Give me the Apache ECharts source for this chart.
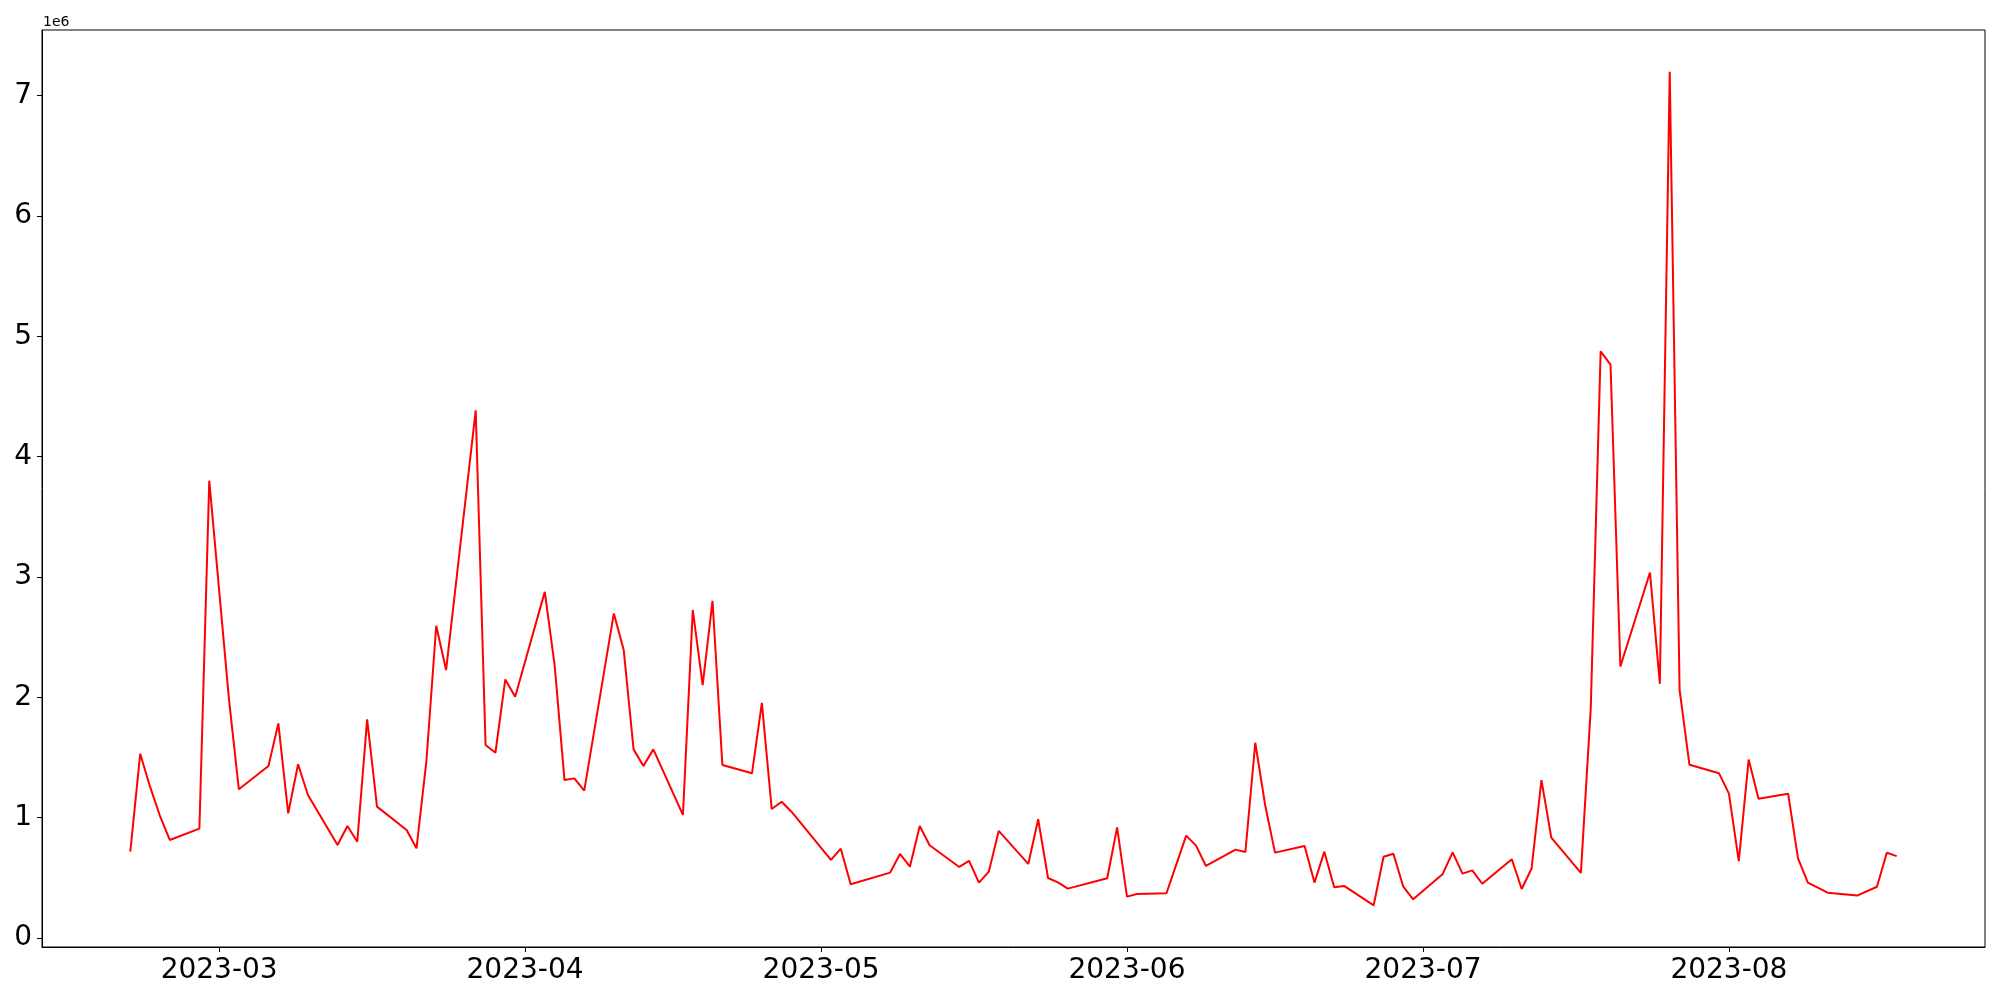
<!DOCTYPE html>
<html>
<head>
<meta charset="utf-8">
<script src="https://cdn.jsdelivr.net/npm/echarts@6/dist/echarts.min.js"></script>
<style>
  html, body { margin: 0; padding: 0; background: #fff; }
  #chart { width: 2000px; height: 1000px; }
</style>
</head>
<body>
<div id="chart"></div>
<script>
// trading days and the plotted value (units of 1e6)
const dates = [
  '2023-02-20', '2023-02-21', '2023-02-22', '2023-02-23', '2023-02-24', '2023-02-27', '2023-02-28',
  '2023-03-02', '2023-03-03', '2023-03-06', '2023-03-07', '2023-03-08', '2023-03-09', '2023-03-10',
  '2023-03-13', '2023-03-14', '2023-03-15', '2023-03-16', '2023-03-17', '2023-03-20', '2023-03-21',
  '2023-03-22', '2023-03-23', '2023-03-24', '2023-03-27', '2023-03-28', '2023-03-29', '2023-03-30',
  '2023-03-31', '2023-04-03', '2023-04-04', '2023-04-05', '2023-04-06', '2023-04-07', '2023-04-10',
  '2023-04-11', '2023-04-12', '2023-04-13', '2023-04-14', '2023-04-17', '2023-04-18', '2023-04-19',
  '2023-04-20', '2023-04-21', '2023-04-24', '2023-04-25', '2023-04-26', '2023-04-27', '2023-04-28',
  '2023-05-02', '2023-05-03', '2023-05-04', '2023-05-08', '2023-05-09', '2023-05-10', '2023-05-11',
  '2023-05-12', '2023-05-15', '2023-05-16', '2023-05-17', '2023-05-18', '2023-05-19', '2023-05-22',
  '2023-05-23', '2023-05-24', '2023-05-25', '2023-05-26', '2023-05-30', '2023-05-31', '2023-06-01',
  '2023-06-02', '2023-06-05', '2023-06-07', '2023-06-08', '2023-06-09', '2023-06-12', '2023-06-13',
  '2023-06-14', '2023-06-15', '2023-06-16', '2023-06-19', '2023-06-20', '2023-06-21', '2023-06-22',
  '2023-06-23', '2023-06-26', '2023-06-27', '2023-06-28', '2023-06-29', '2023-06-30', '2023-07-03',
  '2023-07-04', '2023-07-05', '2023-07-06', '2023-07-07', '2023-07-10', '2023-07-11', '2023-07-12',
  '2023-07-13', '2023-07-14', '2023-07-17', '2023-07-18', '2023-07-19', '2023-07-20', '2023-07-21',
  '2023-07-24', '2023-07-25', '2023-07-26', '2023-07-27', '2023-07-28', '2023-07-31', '2023-08-01',
  '2023-08-02', '2023-08-03', '2023-08-04', '2023-08-07', '2023-08-08', '2023-08-09', '2023-08-11',
  '2023-08-14', '2023-08-16', '2023-08-17', '2023-08-18'
]
const values = [
  0.717, 1.530, 1.257, 1.015, 0.814, 0.908, 3.800,
  1.980, 1.235, 1.429, 1.783, 1.036, 1.443, 1.188,
  0.772, 0.930, 0.800, 1.816, 1.091, 0.897, 0.745,
  1.465, 2.594, 2.226, 4.385, 1.603, 1.539, 2.148,
  2.005, 2.876, 2.267, 1.312, 1.326, 1.224, 2.697,
  2.392, 1.567, 1.429, 1.567, 1.022, 2.724, 2.101,
  2.802, 1.437, 1.368, 1.954, 1.071, 1.132, 1.049,
  0.648, 0.742, 0.446, 0.543, 0.698, 0.592, 0.930,
  0.770, 0.590, 0.640, 0.460, 0.551, 0.889, 0.615,
  0.986, 0.498, 0.462, 0.410, 0.496, 0.919, 0.343,
  0.365, 0.371, 0.850, 0.767, 0.598, 0.734, 0.714,
  1.622, 1.105, 0.709, 0.764, 0.460, 0.717, 0.421,
  0.432, 0.271, 0.675, 0.700, 0.426, 0.321, 0.532,
  0.711, 0.534, 0.561, 0.450, 0.654, 0.407, 0.577,
  1.311, 0.834, 0.541, 1.912, 4.875, 4.765, 2.256,
  3.037, 2.112, 7.199, 2.061, 1.439, 1.368, 1.199,
  0.638, 1.482, 1.156, 1.199, 0.661, 0.460, 0.376,
  0.352, 0.425, 0.708, 0.680
].map(v => v * 1e6)

const xTicks = ['2023-03-01', '2023-04-01', '2023-05-01', '2023-06-01', '2023-07-01', '2023-08-01']
const yTicks = [0, 1e6, 2e6, 3e6, 4e6, 5e6, 6e6, 7e6]

function toTime(s) {
  let p = s.split('-').map(Number)
  return new Date(p[0], p[1] - 1, p[2]).getTime()
}

const times = dates.map(toTime)
const seriesData = times.map((t, i) => [t, values[i]])
const xTickTimes = xTicks.map(toTime)

// matplotlib style 5% margins
const tMin = Math.min(...times), tMax = Math.max(...times)
const vMin = Math.min(...values), vMax = Math.max(...values)
const xPad = (tMax - tMin) * 0.05
const yPad = (vMax - vMin) * 0.05

const font = 'DejaVu Sans'
let myChart = echarts.init(document.getElementById('chart'), null, { renderer: 'canvas' })
let option = {
  animation: false,
  backgroundColor: '#fff',
  grid: {
    left: 42,
    right: 15,
    top: 30,
    bottom: 53,
    show: true,
    borderColor: '#000',
    borderWidth: 1,
    containLabel: false
  },
  graphic: [{
    type: 'text',
    left: 43,
    top: 15,
    style: { text: '1e6', font: '14px "DejaVu Sans"', fill: '#000' }
  }],
  xAxis: {
    type: 'value',
    min: tMin - xPad,
    max: tMax + xPad,
    splitLine: { show: false },
    axisLine: { show: true, onZero: false, lineStyle: { color: '#000', width: 1 } },
    axisTick: {
      show: true,
      length: 5,
      lineStyle: { color: '#000', width: 1 },
      customValues: xTickTimes
    },
    axisLabel: {
      show: true,
      margin: 10,
      fontFamily: font,
      fontSize: 28,
      color: '#000',
      align: 'center',
      alignMinLabel: 'center',
      alignMaxLabel: 'center',
      hideOverlap: false,
      customValues: xTickTimes,
      formatter: function(v) {
        let d = new Date(v)
        let m = d.getMonth() + 1
        return d.getFullYear() + '-' + (m < 10 ? '0' + m : m)
      }
    }
  },
  yAxis: {
    type: 'value',
    min: vMin - yPad,
    max: vMax + yPad,
    splitLine: { show: false },
    axisLine: { show: true, onZero: false, lineStyle: { color: '#000', width: 1 } },
    axisTick: {
      show: true,
      length: 5,
      lineStyle: { color: '#000', width: 1 },
      customValues: yTicks
    },
    axisLabel: {
      show: true,
      margin: 10,
      fontFamily: font,
      fontSize: 28,
      color: '#000',
      customValues: yTicks,
      formatter: function(v) {
        return String(Math.round(v / 1e6))
      }
    }
  },
  series: [{
    type: 'line',
    data: seriesData,
    showSymbol: false,
    symbol: 'none',
    lineStyle: { color: '#ff0000', width: 2 },
    itemStyle: { color: '#ff0000' }
  }]
}
myChart.setOption(option)
</script>
</body>
</html>
